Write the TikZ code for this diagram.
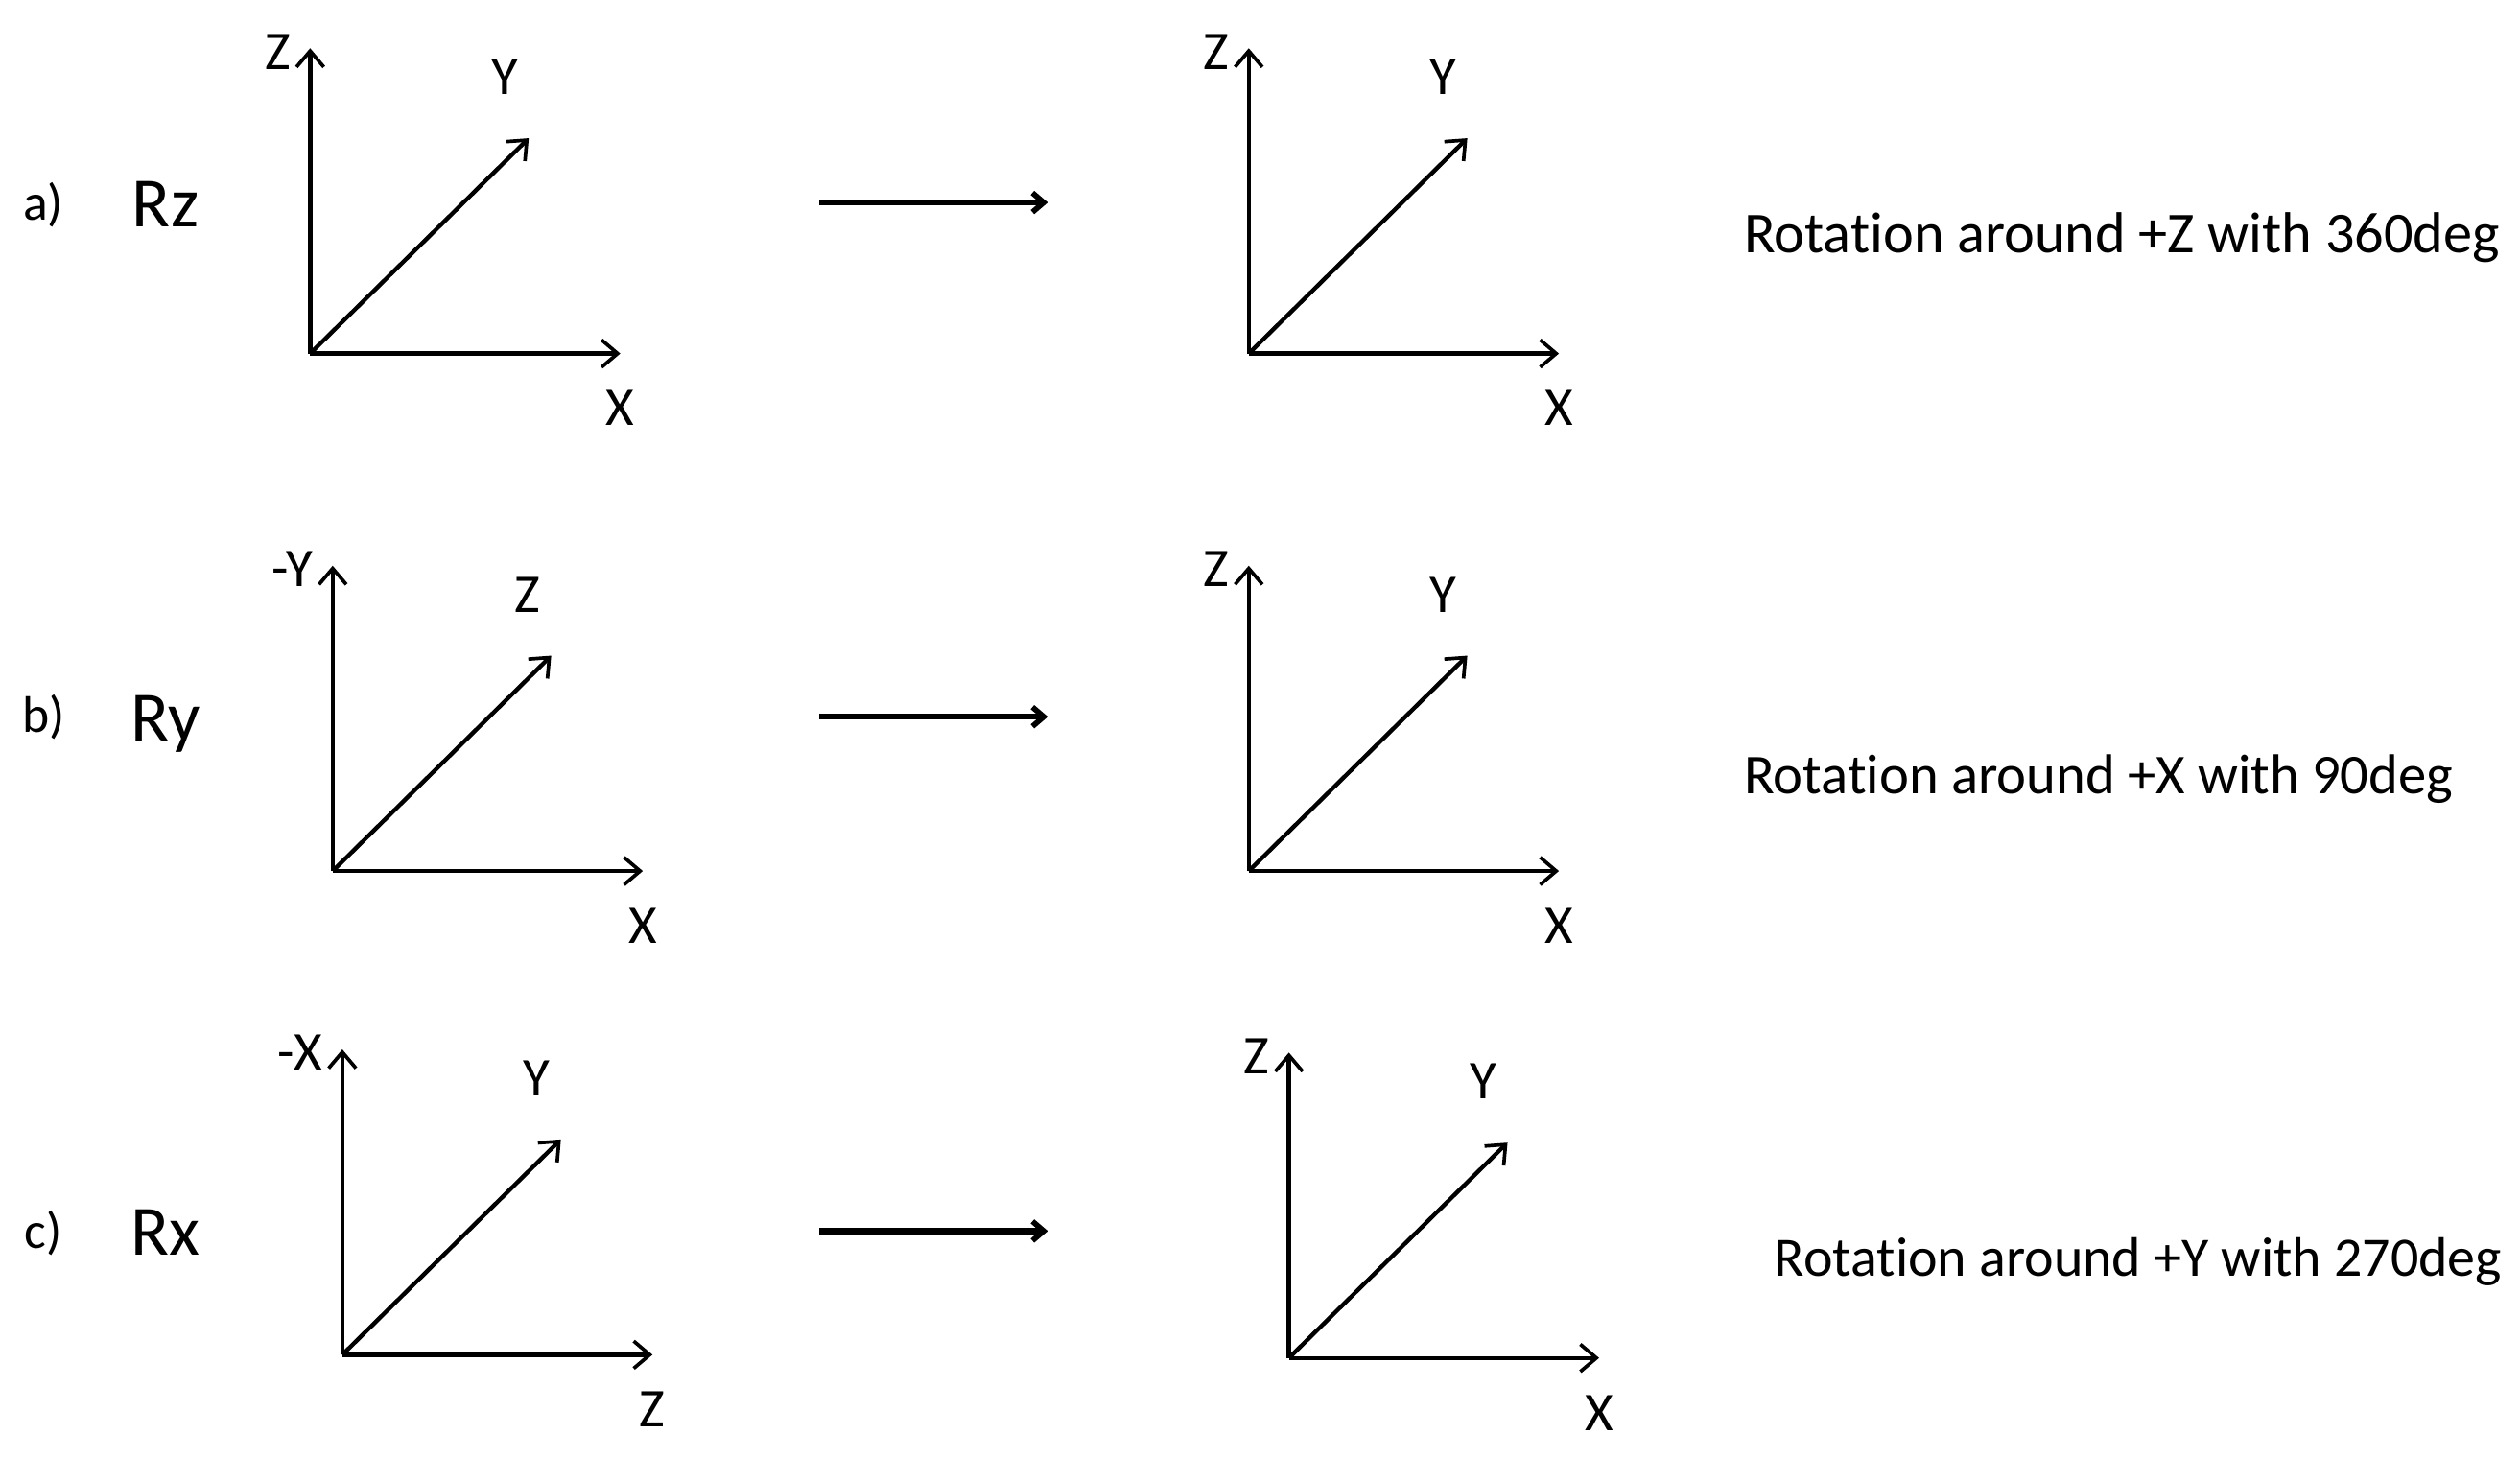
\documentclass[tikz,border=0pt]{standalone}
\usepackage{fontspec}
\setmainfont{Carlito}[Ligatures=NoCommon]
\usetikzlibrary{arrows.meta}
\tikzset{
  axis/.style={line width=2.6pt, -{Straight Barb[length=10pt,width=17pt,line width=2.2pt]}},
  trans/.style={line width=3.8pt, -{Straight Barb[length=7pt,width=12pt,line width=3.4pt]}},
  lbl/.style={font=\fontsize{34}{36}\selectfont, inner sep=0pt, text height=22pt, text depth=0pt},
  tag/.style={font=\fontsize{32}{34}\selectfont, inner sep=0pt, text height=20pt, text depth=0pt},
  big/.style={font=\fontsize{44}{48}\selectfont, inner sep=0pt, text height=28pt, text depth=0pt},
  desc/.style={inner sep=0pt, anchor=base west}
}
\newcommand\axframe[5]{%
  \begin{scope}[shift={#2}]
    \coordinate (#1o) at (0,0);
    \coordinate (#1v) at (0,-190);
    \coordinate (#1h) at (193,0);
    \coordinate (#1d) at (136,-134);
    \draw[axis] (#1o) -- (#1v);
    \draw[axis] (#1o) -- (#1h);
    \draw[axis] (#1o) -- (#1d);
    \node[lbl, anchor=east] (#1vl) at (-12,-188) {#3};
    \node[lbl] (#1dl) at (121,-172) {#4};
    \node[lbl] (#1hl) at (193,34) {#5};
  \end{scope}}
\begin{document}
\begin{tikzpicture}[x=1pt,y=-1pt]
\useasboundingbox (0,0) rectangle (1568,907);
% row a
\node[tag] (ta) at (27,127) {a)};
\node[big] (ra) at (103,127) {Rz};
\axframe{al}{(193,220)}{Z}{Y}{X}
\coordinate (aas) at (510,126);
\coordinate (aae) at (652,126);
\draw[trans] (aas) -- (aae);
\axframe{ar}{(777,220)}{Z}{Y}{X}
\node[desc, font=\fontsize{36}{40}\selectfont] (da) at (1085,157) {Rotation around +Z with 360deg};
% row b
\node[tag] (tb) at (27,446) {b)};
\node[big] (rb) at (103,447) {Ry};
\axframe{bl}{(207,542)}{-Y}{Z}{X}
\coordinate (bas) at (510,446);
\coordinate (bae) at (652,446);
\draw[trans] (bas) -- (bae);
\axframe{br}{(777,542)}{Z}{Y}{X}
\node[desc, font=\fontsize{35}{40}\selectfont] (db) at (1085,494) {Rotation around +X with 90deg};
% row c
\node[tag] (tc) at (27,767) {c)};
\node[big] (rc) at (103,767) {Rx};
\axframe{cl}{(213,843)}{-X}{Y}{Z}
\coordinate (cas) at (510,766);
\coordinate (cae) at (652,766);
\draw[trans] (cas) -- (cae);
\axframe{cr}{(802,845)}{Z}{Y}{X}
\node[desc, anchor=base east, font=\fontsize{34.6}{40}\selectfont] (dc) at (1557,794) {Rotation around +Y with 270deg};
\end{tikzpicture}
\end{document}
